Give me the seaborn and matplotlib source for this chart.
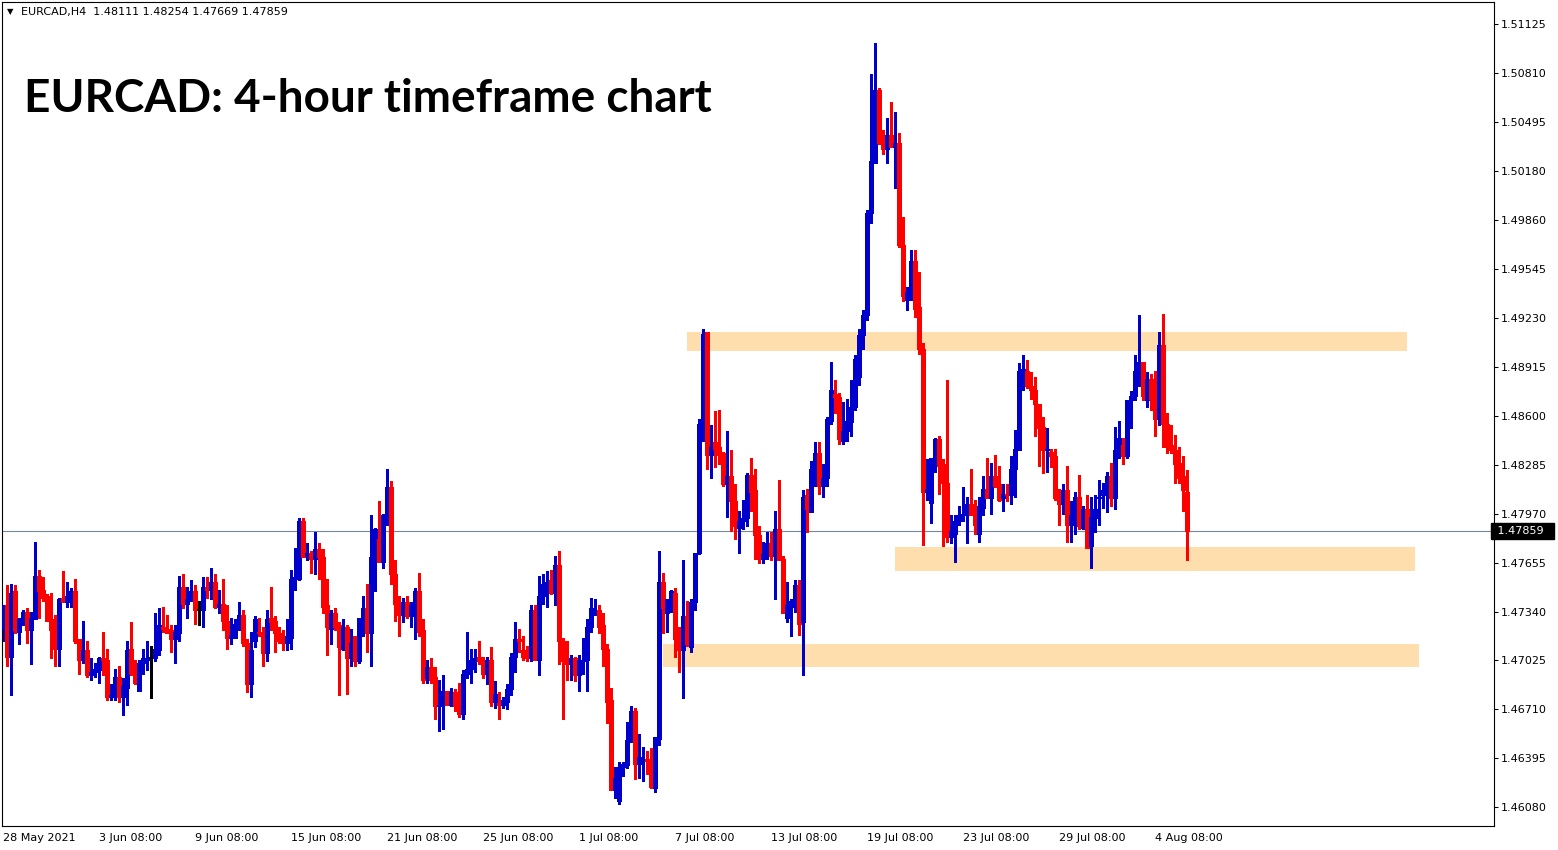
import numpy as np
import pandas as pd
import matplotlib
matplotlib.use("Agg")
import matplotlib.pyplot as plt
import matplotlib.transforms as mtransforms
import seaborn as sns

# EURCAD H4 candles, oldest first
opens = [
    1.4723, 1.4738, 1.4705, 1.4747, 1.4721, 1.4728, 1.4734, 1.4722, 1.4729, 1.4757,
    1.4748, 1.4744, 1.4729, 1.4722, 1.4710, 1.4743, 1.4740, 1.4744, 1.4747, 1.4716,
    1.4703, 1.4709, 1.4693, 1.4695, 1.4696, 1.4704, 1.4703, 1.4679, 1.4679, 1.4692,
    1.4679, 1.4685, 1.4710, 1.4694, 1.4683, 1.4701, 1.4703, 1.4704, 1.4704, 1.4709,
    1.4724, 1.4723, 1.4722, 1.4716, 1.4720, 1.4750, 1.4739, 1.4742, 1.4747, 1.4735,
    1.4735, 1.4750, 1.4748, 1.4753, 1.4737, 1.4739, 1.4728, 1.4717, 1.4717, 1.4725,
    1.4732, 1.4714, 1.4687, 1.4715, 1.4721, 1.4721, 1.4707, 1.4730, 1.4728, 1.4720,
    1.4716, 1.4714, 1.4717, 1.4755, 1.4755, 1.4792, 1.4770, 1.4772, 1.4768, 1.4774,
    1.4769, 1.4738, 1.4723, 1.4733, 1.4725, 1.4710, 1.4724, 1.4704, 1.4718, 1.4702,
    1.4730, 1.4736, 1.4720, 1.4768, 1.4781, 1.4766, 1.4796, 1.4814, 1.4758, 1.4740,
    1.4732, 1.4740, 1.4731, 1.4738, 1.4747, 1.4722, 1.4691, 1.4698, 1.4692, 1.4673,
    1.4674, 1.4683, 1.4674, 1.4682, 1.4674, 1.4668, 1.4694, 1.4697, 1.4703, 1.4705,
    1.4702, 1.4694, 1.4703, 1.4676, 1.4675, 1.4674, 1.4676, 1.4684, 1.4705, 1.4716,
    1.4709, 1.4706, 1.4704, 1.4735, 1.4703, 1.4744, 1.4752, 1.4754, 1.4746, 1.4764,
    1.4715, 1.4702, 1.4700, 1.4704, 1.4693, 1.4702, 1.4703, 1.4724, 1.4734, 1.4735,
    1.4725, 1.4710, 1.4677, 1.4619, 1.4612, 1.4634, 1.4635, 1.4651, 1.4670, 1.4636,
    1.4638, 1.4639, 1.4638, 1.4620, 1.4652, 1.4753, 1.4733, 1.4741, 1.4746, 1.4717,
    1.4709, 1.4731, 1.4711, 1.4740, 1.4772, 1.4855, 1.4914, 1.4835, 1.4843, 1.4840,
    1.4836, 1.4816, 1.4821, 1.4805, 1.4788, 1.4792, 1.4794, 1.4822, 1.4812, 1.4783,
    1.4768, 1.4771, 1.4778, 1.4770, 1.4787, 1.4768, 1.4730, 1.4737, 1.4741, 1.4751,
    1.4727, 1.4809, 1.4798, 1.4826, 1.4836, 1.4815, 1.4820, 1.4857, 1.4874, 1.4872,
    1.4844, 1.4850, 1.4856, 1.4866, 1.4885, 1.4912, 1.4925, 1.4991, 1.5023, 1.5070,
    1.5036, 1.5032, 1.5041, 1.5033, 1.5036, 1.4970, 1.4935, 1.4940, 1.4960, 1.4930,
    1.4903, 1.4811, 1.4804, 1.4833, 1.4845, 1.4829, 1.4817, 1.4782, 1.4784, 1.4792,
    1.4796, 1.4796, 1.4803, 1.4797, 1.4784, 1.4801, 1.4813, 1.4807, 1.4821, 1.4816,
    1.4807, 1.4810, 1.4809, 1.4826, 1.4838, 1.4889, 1.4889, 1.4879, 1.4877, 1.4868,
    1.4853, 1.4838, 1.4837, 1.4834, 1.4807, 1.4803, 1.4812, 1.4790, 1.4790, 1.4808,
    1.4788, 1.4800, 1.4776, 1.4794, 1.4807, 1.4809, 1.4812, 1.4821, 1.4807, 1.4838,
    1.4841, 1.4834, 1.4870, 1.4873, 1.4889, 1.4895, 1.4870, 1.4884, 1.4872, 1.4858,
    1.4906, 1.4855, 1.4841, 1.4838, 1.4830, 1.4821, 1.48111,
]
highs = [
    1.4738, 1.4751, 1.4752, 1.4751, 1.4730, 1.4735, 1.4736, 1.4734, 1.4779, 1.4761,
    1.4756, 1.4745, 1.4746, 1.4732, 1.4743, 1.4760, 1.4753, 1.4749, 1.4755, 1.4716,
    1.4728, 1.4715, 1.4704, 1.4701, 1.4705, 1.4721, 1.4710, 1.4687, 1.4697, 1.4699,
    1.4691, 1.4715, 1.4727, 1.4703, 1.4703, 1.4710, 1.4715, 1.4712, 1.4733, 1.4736,
    1.4737, 1.4732, 1.4725, 1.4725, 1.4757, 1.4758, 1.4750, 1.4754, 1.4751, 1.4741,
    1.4756, 1.4756, 1.4762, 1.4758, 1.4748, 1.4755, 1.4738, 1.4730, 1.4729, 1.4740,
    1.4735, 1.4716, 1.4721, 1.4731, 1.4730, 1.4724, 1.4735, 1.4750, 1.4731, 1.4724,
    1.4722, 1.4729, 1.4761, 1.4775, 1.4794, 1.4794, 1.4778, 1.4773, 1.4785, 1.4778,
    1.4774, 1.4755, 1.4735, 1.4736, 1.4727, 1.4729, 1.4725, 1.4723, 1.4718, 1.4730,
    1.4744, 1.4752, 1.4796, 1.4788, 1.4805, 1.4797, 1.4826, 1.4818, 1.4767, 1.4744,
    1.4743, 1.4744, 1.4740, 1.4749, 1.4759, 1.4729, 1.4703, 1.4704, 1.4698, 1.4690,
    1.4693, 1.4683, 1.4685, 1.4684, 1.4688, 1.4696, 1.4721, 1.4710, 1.4710, 1.4715,
    1.4705, 1.4705, 1.4711, 1.4689, 1.4682, 1.4679, 1.4687, 1.4707, 1.4727, 1.4723,
    1.4718, 1.4712, 1.4738, 1.4738, 1.4757, 1.4758, 1.4760, 1.4761, 1.4770, 1.4773,
    1.4717, 1.4715, 1.4706, 1.4705, 1.4706, 1.4717, 1.4729, 1.4743, 1.4742, 1.4738,
    1.4733, 1.4713, 1.4685, 1.4634, 1.4637, 1.4637, 1.4663, 1.4673, 1.4672, 1.4655,
    1.4647, 1.4644, 1.4646, 1.4653, 1.4773, 1.4759, 1.4742, 1.4748, 1.4749, 1.4724,
    1.4767, 1.4741, 1.4742, 1.4772, 1.4858, 1.4916, 1.4914, 1.4854, 1.4863, 1.4864,
    1.4837, 1.4850, 1.4838, 1.4816, 1.4799, 1.4806, 1.4823, 1.4833, 1.4826, 1.4789,
    1.4779, 1.4785, 1.4785, 1.4799, 1.4819, 1.4770, 1.4753, 1.4742, 1.4754, 1.4754,
    1.4812, 1.4813, 1.4831, 1.4843, 1.4843, 1.4829, 1.4859, 1.4895, 1.4883, 1.4875,
    1.4869, 1.4871, 1.4883, 1.4899, 1.4916, 1.4928, 1.4993, 1.5080, 1.5100, 1.5071,
    1.5044, 1.5052, 1.5062, 1.5056, 1.5042, 1.4988, 1.4943, 1.4967, 1.4967, 1.4953,
    1.4907, 1.4832, 1.4833, 1.4846, 1.4847, 1.4832, 1.4883, 1.4796, 1.4796, 1.4802,
    1.4814, 1.4808, 1.4826, 1.4806, 1.4808, 1.4821, 1.4833, 1.4830, 1.4835, 1.4828,
    1.4816, 1.4816, 1.4834, 1.4851, 1.4894, 1.4899, 1.4896, 1.4888, 1.4885, 1.4868,
    1.4859, 1.4852, 1.4839, 1.4839, 1.4813, 1.4816, 1.4828, 1.4805, 1.4811, 1.4822,
    1.4802, 1.4809, 1.4808, 1.4809, 1.4819, 1.4817, 1.4824, 1.4830, 1.4853, 1.4857,
    1.4846, 1.4870, 1.4876, 1.4899, 1.4925, 1.4895, 1.4888, 1.4887, 1.4889, 1.4914,
    1.4926, 1.4862, 1.4854, 1.4848, 1.4840, 1.4834, 1.48254,
]
lows = [
    1.4715, 1.4699, 1.4680, 1.4720, 1.4713, 1.4725, 1.4714, 1.4700, 1.4729, 1.4730,
    1.4741, 1.4728, 1.4704, 1.4699, 1.4699, 1.4740, 1.4737, 1.4737, 1.4714, 1.4694,
    1.4701, 1.4692, 1.4690, 1.4692, 1.4688, 1.4693, 1.4677, 1.4677, 1.4677, 1.4676,
    1.4667, 1.4674, 1.4693, 1.4687, 1.4683, 1.4694, 1.4696, 1.4678, 1.4702, 1.4706,
    1.4721, 1.4720, 1.4708, 1.4701, 1.4715, 1.4736, 1.4730, 1.4741, 1.4726, 1.4725,
    1.4724, 1.4743, 1.4742, 1.4736, 1.4733, 1.4722, 1.4710, 1.4713, 1.4717, 1.4722,
    1.4712, 1.4682, 1.4679, 1.4711, 1.4718, 1.4699, 1.4702, 1.4722, 1.4708, 1.4714,
    1.4709, 1.4709, 1.4710, 1.4748, 1.4754, 1.4769, 1.4767, 1.4759, 1.4758, 1.4755,
    1.4733, 1.4706, 1.4713, 1.4722, 1.4680, 1.4709, 1.4681, 1.4699, 1.4699, 1.4701,
    1.4718, 1.4708, 1.4699, 1.4747, 1.4766, 1.4762, 1.4790, 1.4752, 1.4728, 1.4718,
    1.4727, 1.4730, 1.4724, 1.4716, 1.4718, 1.4688, 1.4688, 1.4688, 1.4665, 1.4657,
    1.4658, 1.4674, 1.4673, 1.4670, 1.4666, 1.4665, 1.4691, 1.4688, 1.4695, 1.4700,
    1.4691, 1.4687, 1.4673, 1.4672, 1.4665, 1.4672, 1.4671, 1.4680, 1.4695, 1.4708,
    1.4703, 1.4702, 1.4702, 1.4703, 1.4693, 1.4739, 1.4737, 1.4745, 1.4738, 1.4700,
    1.4665, 1.4690, 1.4690, 1.4689, 1.4683, 1.4694, 1.4683, 1.4721, 1.4732, 1.4720,
    1.4699, 1.4662, 1.4619, 1.4614, 1.4610, 1.4628, 1.4633, 1.4650, 1.4626, 1.4627,
    1.4625, 1.4629, 1.4620, 1.4618, 1.4648, 1.4720, 1.4721, 1.4734, 1.4705, 1.4695,
    1.4678, 1.4712, 1.4708, 1.4735, 1.4771, 1.4844, 1.4826, 1.4820, 1.4827, 1.4829,
    1.4815, 1.4795, 1.4786, 1.4781, 1.4772, 1.4787, 1.4789, 1.4799, 1.4768, 1.4765,
    1.4765, 1.4768, 1.4767, 1.4742, 1.4767, 1.4733, 1.4727, 1.4718, 1.4734, 1.4719,
    1.4693, 1.4785, 1.4798, 1.4815, 1.4810, 1.4808, 1.4815, 1.4855, 1.4862, 1.4842,
    1.4842, 1.4844, 1.4847, 1.4864, 1.4880, 1.4903, 1.4922, 1.4984, 1.5023, 1.5035,
    1.5029, 1.5023, 1.5033, 1.5007, 1.4969, 1.4934, 1.4928, 1.4935, 1.4924, 1.4900,
    1.4777, 1.4806, 1.4791, 1.4824, 1.4810, 1.4776, 1.4779, 1.4778, 1.4766, 1.4790,
    1.4792, 1.4778, 1.4796, 1.4784, 1.4779, 1.4796, 1.4807, 1.4797, 1.4814, 1.4805,
    1.4799, 1.4805, 1.4803, 1.4808, 1.4838, 1.4877, 1.4878, 1.4871, 1.4847, 1.4828,
    1.4823, 1.4824, 1.4827, 1.4806, 1.4790, 1.4797, 1.4779, 1.4779, 1.4784, 1.4787,
    1.4787, 1.4775, 1.4762, 1.4785, 1.4790, 1.4801, 1.4798, 1.4802, 1.4800, 1.4833,
    1.4829, 1.4833, 1.4852, 1.4870, 1.4879, 1.4870, 1.4866, 1.4864, 1.4847, 1.4854,
    1.4840, 1.4836, 1.4836, 1.4817, 1.4817, 1.4799, 1.47669,
]
closes = [
    1.4738, 1.4705, 1.4746, 1.4722, 1.4729, 1.4734, 1.4722, 1.4730, 1.4757, 1.4747,
    1.4743, 1.4728, 1.4722, 1.4710, 1.4742, 1.4740, 1.4744, 1.4747, 1.4715, 1.4703,
    1.4709, 1.4693, 1.4695, 1.4697, 1.4704, 1.4703, 1.4679, 1.4680, 1.4692, 1.4679,
    1.4686, 1.4709, 1.4694, 1.4688, 1.4701, 1.4704, 1.4704, 1.4704, 1.4710, 1.4725,
    1.4723, 1.4720, 1.4716, 1.4721, 1.4750, 1.4739, 1.4742, 1.4747, 1.4735, 1.4735,
    1.4750, 1.4748, 1.4753, 1.4737, 1.4739, 1.4728, 1.4717, 1.4719, 1.4726, 1.4732,
    1.4714, 1.4687, 1.4709, 1.4729, 1.4720, 1.4707, 1.4729, 1.4727, 1.4720, 1.4715,
    1.4714, 1.4718, 1.4755, 1.4756, 1.4792, 1.4769, 1.4772, 1.4768, 1.4774, 1.4769,
    1.4737, 1.4724, 1.4733, 1.4724, 1.4711, 1.4724, 1.4704, 1.4714, 1.4702, 1.4730,
    1.4736, 1.4720, 1.4769, 1.4787, 1.4766, 1.4796, 1.4814, 1.4758, 1.4739, 1.4732,
    1.4740, 1.4731, 1.4738, 1.4747, 1.4721, 1.4690, 1.4698, 1.4690, 1.4673, 1.4674,
    1.4683, 1.4674, 1.4682, 1.4673, 1.4668, 1.4694, 1.4697, 1.4703, 1.4704, 1.4702,
    1.4694, 1.4703, 1.4676, 1.4681, 1.4674, 1.4677, 1.4684, 1.4705, 1.4716, 1.4715,
    1.4705, 1.4704, 1.4735, 1.4703, 1.4744, 1.4752, 1.4753, 1.4746, 1.4764, 1.4715,
    1.4702, 1.4700, 1.4704, 1.4693, 1.4703, 1.4703, 1.4724, 1.4736, 1.4735, 1.4724,
    1.4710, 1.4676, 1.4619, 1.4627, 1.4634, 1.4636, 1.4651, 1.4670, 1.4636, 1.4640,
    1.4639, 1.4638, 1.4621, 1.4653, 1.4753, 1.4736, 1.4742, 1.4747, 1.4716, 1.4709,
    1.4731, 1.4713, 1.4740, 1.4772, 1.4855, 1.4913, 1.4835, 1.4840, 1.4839, 1.4835,
    1.4816, 1.4821, 1.4805, 1.4789, 1.4792, 1.4794, 1.4822, 1.4811, 1.4783, 1.4768,
    1.4771, 1.4778, 1.4770, 1.4787, 1.4767, 1.4733, 1.4738, 1.4741, 1.4751, 1.4726,
    1.4808, 1.4800, 1.4826, 1.4836, 1.4815, 1.4820, 1.4858, 1.4877, 1.4872, 1.4845,
    1.4850, 1.4857, 1.4866, 1.4897, 1.4912, 1.4925, 1.4991, 1.5024, 1.5070, 1.5036,
    1.5032, 1.5041, 1.5033, 1.5036, 1.4970, 1.4937, 1.4940, 1.4960, 1.4929, 1.4903,
    1.4811, 1.4813, 1.4833, 1.4845, 1.4828, 1.4817, 1.4782, 1.4786, 1.4792, 1.4796,
    1.4797, 1.4803, 1.4796, 1.4790, 1.4802, 1.4813, 1.4807, 1.4821, 1.4815, 1.4806,
    1.4810, 1.4809, 1.4826, 1.4839, 1.4889, 1.4890, 1.4879, 1.4877, 1.4868, 1.4852,
    1.4838, 1.4839, 1.4834, 1.4807, 1.4803, 1.4812, 1.4790, 1.4796, 1.4808, 1.4789,
    1.4800, 1.4775, 1.4795, 1.4800, 1.4808, 1.4812, 1.4821, 1.4807, 1.4838, 1.4846,
    1.4834, 1.4870, 1.4873, 1.4889, 1.4895, 1.4873, 1.4884, 1.4871, 1.4858, 1.4906,
    1.4855, 1.4840, 1.4838, 1.4829, 1.4820, 1.4812, 1.47859,
]

# date labels along the bottom, one every 24 bars
date_labels = ["28 May 2021", "3 Jun 08:00", "9 Jun 08:00", "15 Jun 08:00", "21 Jun 08:00",
               "25 Jun 08:00", "1 Jul 08:00", "7 Jul 08:00", "13 Jul 08:00", "19 Jul 08:00",
               "23 Jul 08:00", "29 Jul 08:00", "4 Aug 08:00"]
price_ticks = [1.46080, 1.46395, 1.46710, 1.47025, 1.47340, 1.47655, 1.47970, 1.48285,
               1.48600, 1.48915, 1.49230, 1.49545, 1.49860, 1.50180, 1.50495, 1.50810, 1.51125]

# supply / demand zones drawn on the chart
zone_low = [1.49018, 1.47601, 1.46982]
zone_high = [1.49141, 1.47755, 1.47130]
zone_from = [170.9, 222.9, 164.9]
zone_to = [350.9, 352.9, 353.9]

df = pd.DataFrame({"open": opens, "high": highs, "low": lows, "close": closes})
df["bar"] = np.arange(len(df))
df["color"] = np.where(df.close > df.open, "#0000CD",
                       np.where(df.close < df.open, "#FF0000", "#000000"))
df["body_lo"] = df[["open", "close"]].min(axis=1)
df["body_hi"] = df["body_lo"] + (df.close - df.open).abs().clip(lower=0.00007)

sns.set_theme(style="white")
plt.rcParams["font.family"] = ["DejaVu Sans"]

fig = plt.figure(figsize=(15.58, 8.5), dpi=100)
ax = fig.add_axes([2 / 1558, 24 / 850, 1492 / 1558, 824 / 850])

# zones behind everything
for lo, hi, x0, x1 in zip(zone_low, zone_high, zone_from, zone_to):
    ax.fill_between([x0, x1], lo, hi, color="#FFDEAD", lw=0, zorder=0)

ax.axhline(closes[-1], color="#778899", lw=0.8, zorder=1)

# candles: thin wicks, 3px bodies
ax.vlines(df.bar, df.low, df.high, colors=df.color, lw=0.8, antialiased=False, zorder=2)
ax.vlines(df.bar, df.body_lo, df.body_hi, colors=df.color, lw=2.2, antialiased=False,
          capstyle="butt", zorder=3)

ax.set_xlim(-0.33, 372.7)
ax.set_ylim(1.45958, 1.51267)

ax.yaxis.tick_right()
ax.set_yticks(price_ticks)
ax.set_yticklabels([f"{p:.5f}" for p in price_ticks])
ax.set_xticks(np.arange(len(date_labels)) * 24)
ax.set_xticklabels(date_labels)
for lab in ax.get_xticklabels():
    lab.set_horizontalalignment("left")
ax.tick_params(axis="both", labelsize=8, colors="black", length=3, width=0.75, pad=2)
ax.tick_params(axis="x", pad=2)
for s in ax.spines.values():
    s.set_color("black")
    s.set_linewidth(0.8)

# current price tag
trans = mtransforms.blended_transform_factory(ax.transAxes, ax.transData)
ax.text(1.0, closes[-1], " 1.47859  ", transform=trans, ha="left", va="center",
        fontsize=8, color="white", clip_on=False,
        bbox=dict(boxstyle="square,pad=0.3", fc="black", ec="black"))

fig.text(7 / 1558, 1 - 12 / 850, "\u25bc", fontsize=6, va="center", color="black")
fig.text(21 / 1558, 1 - 12 / 850, "EURCAD,H4  1.48111 1.48254 1.47669 1.47859",
         fontsize=8, va="center", color="black")
fig.text(24 / 1558, 1 - 99 / 850, "EURCAD: 4-hour timeframe chart", fontsize=33,
         fontweight="bold", family="Lato", va="center", color="black")

fig.savefig("out.png", dpi=100)
